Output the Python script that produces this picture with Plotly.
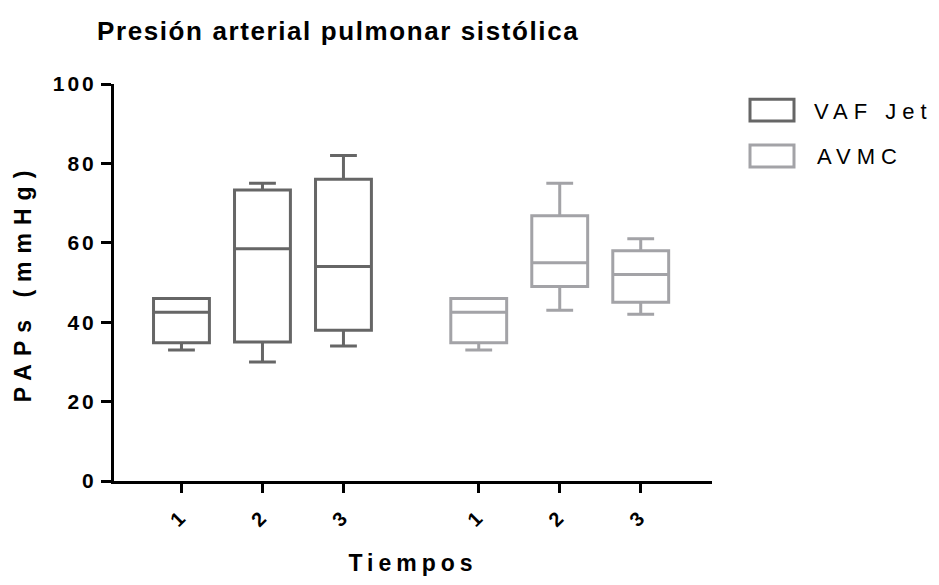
import plotly.graph_objects as go

# ---------------- data ----------------
groups = ["VAF Jet", "AVMC"]
tiempos = ["1", "2", "3"]
pos_vaf = [0, 1, 2]
pos_avmc = [3.67, 4.67, 5.67]

vaf_min = [33, 30, 34]
vaf_q1 = [34.8, 35, 38]
vaf_med = [42.5, 58.5, 54]
vaf_q3 = [46, 73.3, 76]
vaf_max = [46, 75, 82]

avmc_min = [33, 43, 42]
avmc_q1 = [34.8, 49, 45]
avmc_med = [42.5, 55, 52]
avmc_q3 = [46, 66.8, 58]
avmc_max = [46, 75, 61]

y_ticks = [0, 20, 40, 60, 80, 100]

# ---------------- style ----------------
C_VAF = "#666666"
C_AVMC = "#a3a3a7"
FONT = "Liberation Sans, Arial, sans-serif"

W, H = 939, 585
L, R, T, B = 114, 712, 84, 483

fig = go.Figure()
for name, pos, mn, q1, md, q3, mx, col in [
    (groups[0], pos_vaf, vaf_min, vaf_q1, vaf_med, vaf_q3, vaf_max, C_VAF),
    (groups[1], pos_avmc, avmc_min, avmc_q1, avmc_med, avmc_q3, avmc_max, C_AVMC),
]:
    fig.add_trace(go.Box(
        name=name, x=pos, q1=q1, median=md, q3=q3,
        lowerfence=mn, upperfence=mx,
        width=0.69, whiskerwidth=0.48,
        line=dict(color=col, width=3),
        fillcolor="rgba(0,0,0,0)",
        boxpoints=False, showlegend=False, hoverinfo="skip",
    ))

fig.update_layout(
    width=W, height=H,
    margin=dict(l=L, r=W - R, t=T, b=H - B, pad=0),
    paper_bgcolor="white", plot_bgcolor="white",
    boxmode="overlay",
    font=dict(family=FONT, color="black"),
    title=dict(
        text="<b>Presión arterial pulmonar sistólica</b>",
        font=dict(size=26, family=FONT, color="black"),
        x=97 / W, xanchor="left", xref="container",
        y=1 - 31 / H, yanchor="middle", yref="container",
    ),
    xaxis=dict(
        range=[-0.833, 6.55],
        tickvals=pos_vaf + pos_avmc,
        ticktext=["<b>%s</b>" % t for t in tiempos * 2],
        tickangle=-45,
        ticks="outside", ticklen=9, tickwidth=3, tickcolor="black",
        showline=True, linewidth=3, linecolor="black",
        showgrid=False, zeroline=False,
        tickfont=dict(size=20, family=FONT),
        ticklabelstandoff=4,
        title=dict(text="<b>Tiempos</b>", font=dict(size=23, family=FONT), standoff=28),
    ),
    yaxis=dict(
        range=[0, 100],
        tickvals=y_ticks,
        ticktext=["<b>%d</b>" % v for v in y_ticks],
        ticks="outside", ticklen=10, tickwidth=3, tickcolor="black",
        showline=True, linewidth=3, linecolor="black",
        showgrid=False, zeroline=False,
        tickfont=dict(size=21, family=FONT),
        ticklabelstandoff=0,
        title=dict(text="<b>PAPs (mmHg)</b>", font=dict(size=23, family=FONT), standoff=24),
    ),
)

# ---------------- legend (drawn manually) ----------------
def px(xp):
    return (xp - L) / (R - L)

def py(yp):
    return (B - yp) / (B - T)

LEG_LS = 6
legend_rows = [(groups[0], C_VAF, 98.3, 122.3, 815, 926),
               (groups[1], C_AVMC, 144.3, 168.3, 815, 898)]
for name, col, y0, y1, tx0, tx1 in legend_rows:
    fig.add_shape(type="rect", xref="paper", yref="paper",
                  x0=px(750), x1=px(794), y0=py(y1 - 1), y1=py(y0 + 1),
                  line=dict(color=col, width=3), fillcolor="rgba(0,0,0,0)")
    fig.add_annotation(text=name, xref="paper", yref="paper",
                       x=px((tx0 + tx1) / 2 + LEG_LS / 2), y=py((y0 + y1) / 2 + 1),
                       xanchor="center", yanchor="middle",
                       showarrow=False, font=dict(size=22, family=FONT, color="black"))

post = """
var gd = document.getElementById('{plot_id}');
function sp(sel, v){ gd.querySelectorAll(sel).forEach(function(e){ e.style.letterSpacing = v; }); }
sp('.gtitle', '1.6px');
sp('.xtitle', '5px');
sp('.ytitle', '8px');
sp('.xtick text', '3px');
sp('.ytick text', '3px');
sp('.annotation-text', '%dpx');
""" % LEG_LS

fig.write_html("out.html", post_script=post)
